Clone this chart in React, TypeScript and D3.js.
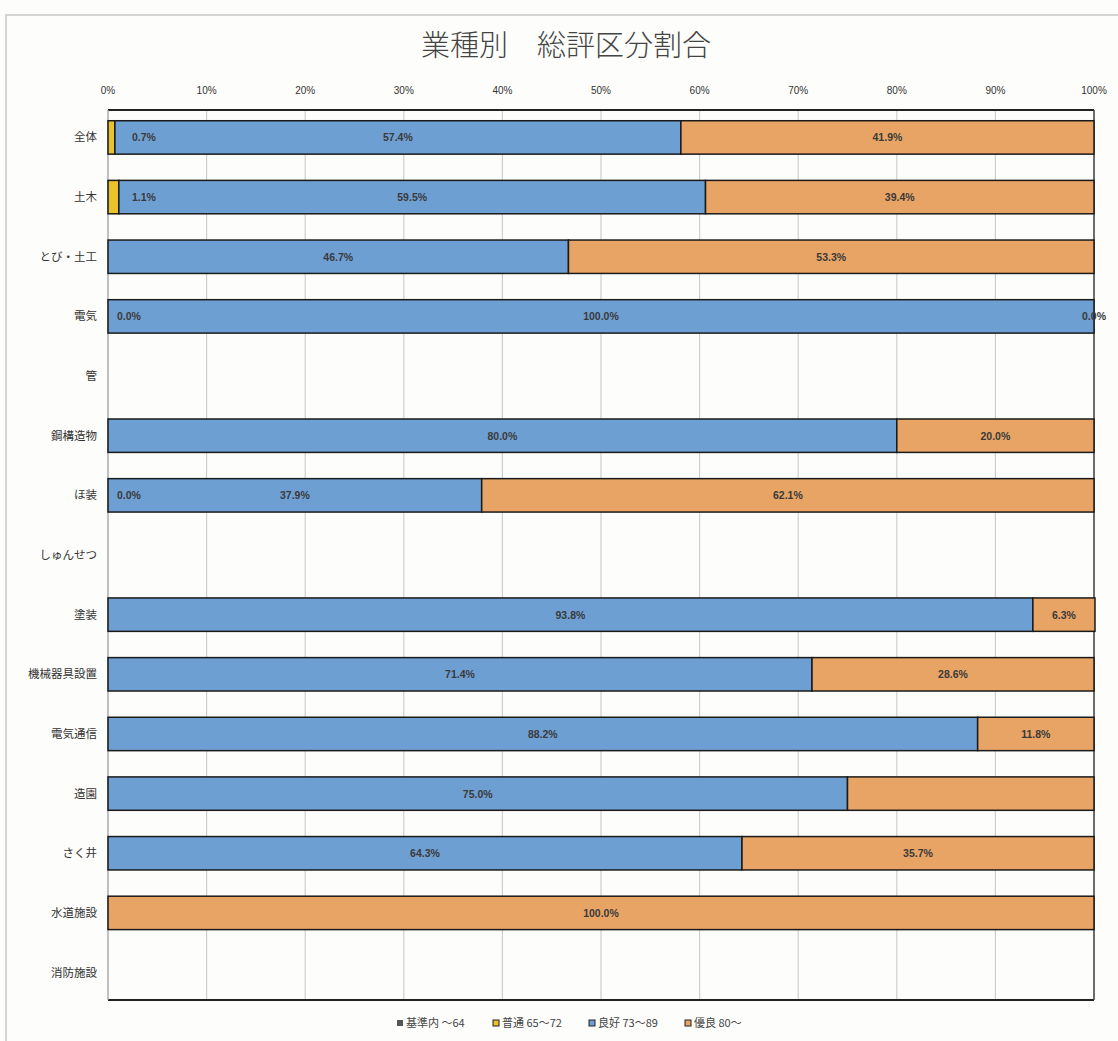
import React from "react";
import * as d3 from "d3";

const title = "業種別　総評区分割合";
const categories = [
  "全体", "土木", "とび・土工", "電気", "管", "鋼構造物", "ほ装", "しゅんせつ",
  "塗装", "機械器具設置", "電気通信", "造園", "さく井", "水道施設", "消防施設",
];
const seriesNames = ["基準内 ～64", "普通 65～72", "良好 73～89", "優良 80～"];
const kijunnai = [0, 0, 0, 0, null, 0, 0, null, 0, 0, 0, 0, 0, 0, null];
const futsuu = [0.7, 1.1, 0, 0, null, 0, 0, null, 0, 0, 0, 0, 0, 0, null];
const ryoukou = [57.4, 59.5, 46.7, 100, null, 80, 37.9, null, 93.8, 71.4, 88.2, 75.0, 64.3, 0, null];
const yuuryou = [41.9, 39.4, 53.3, 0, null, 20, 62.1, null, 6.3, 28.6, 11.8, 25.0, 35.7, 100, null];
// which data labels are visible (series index -> category indices)
const futsuuLabelRows = [0, 1, 3, 6];
const ryoukouLabelRows = [0, 1, 2, 3, 5, 6, 8, 9, 10, 11, 12];
const yuuryouLabelRows = [0, 1, 2, 3, 5, 6, 8, 9, 10, 12, 13];
const xTicks = [0, 10, 20, 30, 40, 50, 60, 70, 80, 90, 100];

const colors = ["#555555", "#e9c22c", "#6e9fd3", "#e8a465"];

const W = 1118;
const H = 1041;
const M = { left: 108, right: 1094, top: 110, bottom: 1000 };

export default function App() {
  const x = d3.scaleLinear().domain([0, 100]).range([M.left, M.right]);
  const y = d3.scaleBand<string>().domain(categories).range([M.top, M.bottom]).paddingInner(0.44).paddingOuter(0.18);

  const rows = categories.map((c, i) => ({
    cat: c,
    s0: kijunnai[i] ?? 0,
    s1: futsuu[i] ?? 0,
    s2: ryoukou[i] ?? 0,
    s3: yuuryou[i] ?? 0,
    empty: ryoukou[i] === null,
  }));
  const stack = d3.stack<any>().keys(["s0", "s1", "s2", "s3"]);
  const stacked = stack(rows);
  const labelRows = [[], futsuuLabelRows, ryoukouLabelRows, yuuryouLabelRows];
  const bh = y.bandwidth();
  const font = "'Liberation Sans Narrow', 'Liberation Sans', sans-serif";

  return (
    <svg width={W} height={H} style={{ position: "absolute", left: 0, top: 0, background: "#fdfdfb" }}
      fontFamily="'Noto Sans CJK JP', sans-serif">
      <rect x={0} y={0} width={W} height={H} fill="#fdfdfb" />
      <rect x={6} y={15} width={W + 10} height={H} fill="none" stroke="#c8c8c8" strokeWidth={1.5} />
      <text x={566} y={56} textAnchor="middle" fontSize={29} fill="#444" fontWeight={300}>{title}</text>

      {/* gridlines */}
      {xTicks.map((t) => (
        <line key={t} x1={x(t)} x2={x(t)} y1={M.top} y2={M.bottom} stroke="#cfcfcf" strokeWidth={1.2} />
      ))}
      {xTicks.map((t) => (
        <text key={"t" + t} x={x(t)} y={94} textAnchor="middle" fontSize={10} fill="#333"
          fontFamily={font}>{t}%</text>
      ))}
      <line x1={M.left} x2={M.right} y1={M.top} y2={M.top} stroke="#222" strokeWidth={2} />
      <line x1={M.left} x2={M.right} y1={M.bottom} y2={M.bottom} stroke="#222" strokeWidth={2} />
      <line x1={M.left} x2={M.left} y1={M.top} y2={M.bottom} stroke="#aaa" strokeWidth={1.2} />
      <line x1={M.right} x2={M.right} y1={M.top} y2={M.bottom} stroke="#444" strokeWidth={1.5} />

      {/* bars */}
      {stacked.map((layer, si) => (
        <g key={si} fill={colors[si]}>
          {layer.map((d, ci) => {
            if (rows[ci].empty) return null;
            const w = x(d[1]) - x(d[0]);
            if (w <= 0) return null;
            return (
              <rect key={ci} x={x(d[0])} y={y(categories[ci])!} width={w} height={bh}
                stroke="#1a1a1a" strokeWidth={1.5} />
            );
          })}
        </g>
      ))}

      {/* labels */}
      {stacked.map((layer, si) =>
        layer.map((d, ci) => {
          if (!labelRows[si].includes(ci)) return null;
          const v = (d[1] - d[0]);
          const w = x(d[1]) - x(d[0]);
          const yc = y(categories[ci])! + bh / 2 + 4;
          let lx = (x(d[0]) + x(d[1])) / 2;
          let anchor = "middle";
          if (si === 1) {
            lx = x(d[0]) + (v > 0 ? 24 : 9);
            anchor = "start";
          } else if (w <= 0) {
            lx = x(d[0]);
          }
          return (
            <text key={si + "-" + ci} x={lx} y={yc} textAnchor={anchor} fontSize={10.5}
              fontWeight="bold" fill="#3a3a3a" fontFamily={font}>{v.toFixed(1)}%</text>
          );
        })
      )}

      {/* category labels */}
      {categories.map((c) => (
        <text key={c} x={97} y={y(c)! + bh / 2 + 4} textAnchor="end" fontSize={11.5} fill="#333">{c}</text>
      ))}

      {/* legend */}
      {seriesNames.map((s, i) => {
        const lx = 397 + i * 96;
        return (
          <g key={s}>
            <rect x={lx} y={1020} width={6} height={6} fill={colors[i]} stroke={i === 0 ? "none" : "#222"} strokeWidth={1} />
            <text x={lx + 9} y={1027} fontSize={11} fill="#444">{s}</text>
          </g>
        );
      })}
    </svg>
  );
}
